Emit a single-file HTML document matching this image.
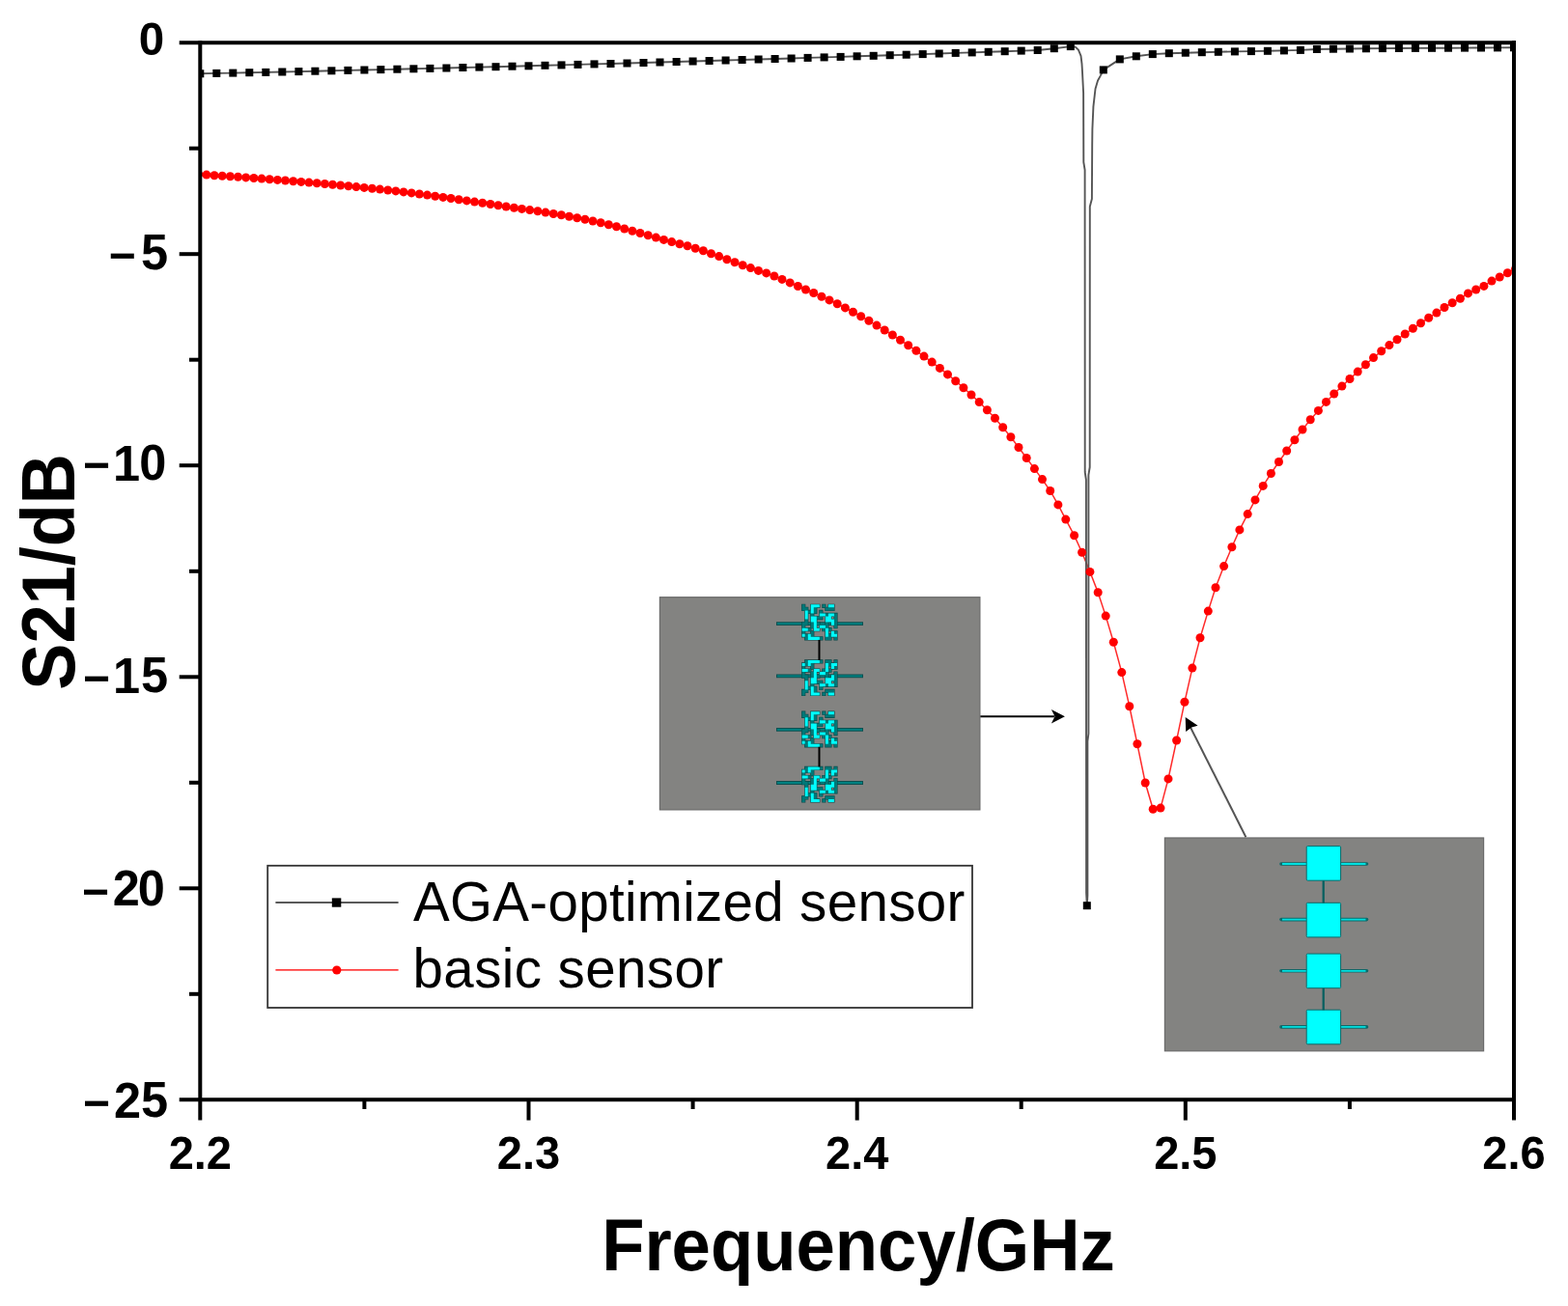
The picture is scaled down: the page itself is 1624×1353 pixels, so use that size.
<!DOCTYPE html>
<html><head><meta charset="utf-8"><title>S21 vs Frequency</title>
<style>html,body{margin:0;padding:0;background:#fff;}svg{display:block;}</style></head>
<body><svg width="1624" height="1353" viewBox="0 0 1624 1353">
<rect x="0" y="0" width="1624" height="1353" fill="#fff"/>
<defs><clipPath id="pc"><rect x="207.3" y="44.2" width="1360.7" height="1095.1"/></clipPath></defs>
<g clip-path="url(#pc)">
<polyline points="205.7,180.6 213.9,181.1 222.0,181.7 230.2,182.2 238.4,182.8 246.5,183.3 254.7,183.9 262.9,184.5 271.0,185.1 279.2,185.7 287.4,186.4 295.5,187.0 303.7,187.7 311.9,188.4 320.0,189.1 328.2,189.8 336.4,190.5 344.5,191.2 352.7,192.0 360.9,192.8 369.0,193.6 377.2,194.4 385.4,195.2 393.5,196.1 401.7,197.0 409.9,197.9 418.0,198.9 426.2,199.9 434.4,201.0 442.5,202.1 450.7,203.2 458.9,204.4 467.0,205.5 475.2,206.7 483.4,207.9 491.5,209.1 499.7,210.3 507.9,211.5 516.0,212.8 524.2,214.0 532.4,215.2 540.5,216.4 548.7,217.6 556.9,218.8 565.0,220.1 573.2,221.5 581.4,222.8 589.5,224.3 597.7,225.8 605.9,227.3 614.0,229.0 622.2,230.8 630.4,232.7 638.5,234.8 646.7,237.0 654.9,239.2 663.0,241.5 671.2,243.8 679.4,246.1 687.5,248.4 695.7,250.6 703.9,252.8 712.0,254.8 720.2,257.2 728.4,259.8 736.5,262.7 744.7,265.6 752.9,268.7 761.0,271.7 769.2,274.7 777.4,277.6 785.5,280.4 793.7,282.9 801.9,286.0 810.0,289.4 818.2,292.9 826.4,296.5 834.5,300.0 842.7,303.5 850.9,307.2 859.0,310.9 867.2,314.8 875.4,318.9 883.5,323.2 891.7,327.7 899.9,332.3 908.0,337.1 916.2,342.0 924.4,347.0 932.5,352.3 940.7,357.7 948.9,363.3 957.0,369.1 965.2,375.1 973.4,381.4 981.5,387.9 989.7,394.7 997.9,401.7 1006.0,409.0 1014.2,416.6 1022.4,424.7 1030.5,433.3 1038.7,442.7 1046.9,452.8 1055.0,463.5 1063.2,474.5 1071.4,485.6 1079.5,496.6 1087.7,508.5 1095.9,522.9 1103.8,538.1 1112.6,554.7 1120.6,572.3 1128.9,592.4 1137.2,613.7 1145.2,638.1 1153.3,665.2 1161.8,696.6 1169.8,731.8 1177.9,770.8 1186.2,811.0 1194.2,838.3 1202.0,837.1 1210.0,806.9 1218.6,767.0 1226.9,727.3 1234.9,692.1 1243.0,660.7 1251.3,633.1 1259.0,608.7 1267.6,586.6 1275.9,566.7 1283.9,548.9 1292.2,532.6 1300.0,517.9 1308.2,503.4 1316.4,490.5 1324.5,478.5 1332.7,467.0 1340.9,455.8 1349.0,445.0 1357.2,434.8 1365.4,425.4 1373.5,416.4 1381.7,408.0 1389.9,400.1 1398.0,392.5 1406.2,385.1 1414.4,377.8 1422.5,370.6 1430.7,363.8 1438.9,357.6 1447.0,351.7 1455.2,346.0 1463.4,340.3 1471.5,334.7 1479.7,329.3 1487.9,324.1 1496.0,318.5 1504.2,313.7 1512.4,309.3 1520.5,303.9 1528.7,300.0 1536.9,296.4 1545.0,291.1 1553.2,287.0 1561.4,282.8 1569.5,278.7" fill="none" stroke="#ff2a2a" stroke-width="1.5"/>
<polyline points="207.3,76.3 224.3,75.9 241.3,75.6 258.3,75.2 275.3,74.9 292.3,74.5 309.4,74.1 326.4,73.7 343.4,73.3 360.4,72.9 377.4,72.5 394.4,72.1 411.4,71.7 428.4,71.3 445.4,70.9 462.4,70.5 479.4,70.0 496.4,69.6 513.5,69.2 530.5,68.7 547.5,68.3 564.5,67.8 581.5,67.4 598.5,66.9 615.5,66.4 632.5,66.0 649.5,65.5 666.5,65.0 683.5,64.5 700.6,64.0 717.6,63.5 734.6,63.0 751.6,62.5 768.6,62.0 785.6,61.5 802.6,61.0 819.6,60.5 836.6,59.9 853.6,59.4 870.6,58.9 887.6,58.3 904.7,57.8 921.7,57.2 938.7,56.7 955.7,56.1 972.7,55.5 989.7,54.9 1006.7,54.4 1023.7,53.8 1040.7,53.2 1057.7,52.6 1074.7,52.0 1091.8,50.2 1108.8,48.1 1113.8,48.6 1116.9,51.7 1119.5,57.9 1120.5,66.2 1121.0,74.5 1122.1,96.2 1122.3,168.0 1123.6,176.0 1123.7,489.0 1124.9,497.0 1125.1,925.0 1125.8,938.2 1126.4,928.0 1126.4,768.0 1127.4,760.0 1127.4,492.0 1128.7,484.0 1128.8,214.0 1130.9,206.0 1131.2,150.0 1131.4,133.5 1132.4,110.7 1134.5,92.0 1137.0,83.5 1139.7,78.6 1142.8,72.4 1159.8,61.4 1176.8,58.3 1193.8,56.1 1210.8,55.2 1227.8,54.7 1244.8,54.2 1261.8,53.8 1278.9,53.4 1295.9,53.1 1312.9,52.8 1329.9,52.4 1346.9,51.9 1363.9,51.0 1380.9,50.7 1397.9,50.5 1414.9,50.3 1431.9,50.1 1448.9,50.0 1465.9,49.9 1483.0,49.8 1500.0,49.7 1517.0,49.6 1534.0,49.5 1551.0,49.4 1568.0,49.3" fill="none" stroke="#555" stroke-width="1.9" stroke-linejoin="round"/>
<g fill="#ff0000"><circle cx="205.7" cy="180.6" r="4.5"/><circle cx="213.9" cy="181.1" r="4.5"/><circle cx="222.0" cy="181.7" r="4.5"/><circle cx="230.2" cy="182.2" r="4.5"/><circle cx="238.4" cy="182.8" r="4.5"/><circle cx="246.5" cy="183.3" r="4.5"/><circle cx="254.7" cy="183.9" r="4.5"/><circle cx="262.9" cy="184.5" r="4.5"/><circle cx="271.0" cy="185.1" r="4.5"/><circle cx="279.2" cy="185.7" r="4.5"/><circle cx="287.4" cy="186.4" r="4.5"/><circle cx="295.5" cy="187.0" r="4.5"/><circle cx="303.7" cy="187.7" r="4.5"/><circle cx="311.9" cy="188.4" r="4.5"/><circle cx="320.0" cy="189.1" r="4.5"/><circle cx="328.2" cy="189.8" r="4.5"/><circle cx="336.4" cy="190.5" r="4.5"/><circle cx="344.5" cy="191.2" r="4.5"/><circle cx="352.7" cy="192.0" r="4.5"/><circle cx="360.9" cy="192.8" r="4.5"/><circle cx="369.0" cy="193.6" r="4.5"/><circle cx="377.2" cy="194.4" r="4.5"/><circle cx="385.4" cy="195.2" r="4.5"/><circle cx="393.5" cy="196.1" r="4.5"/><circle cx="401.7" cy="197.0" r="4.5"/><circle cx="409.9" cy="197.9" r="4.5"/><circle cx="418.0" cy="198.9" r="4.5"/><circle cx="426.2" cy="199.9" r="4.5"/><circle cx="434.4" cy="201.0" r="4.5"/><circle cx="442.5" cy="202.1" r="4.5"/><circle cx="450.7" cy="203.2" r="4.5"/><circle cx="458.9" cy="204.4" r="4.5"/><circle cx="467.0" cy="205.5" r="4.5"/><circle cx="475.2" cy="206.7" r="4.5"/><circle cx="483.4" cy="207.9" r="4.5"/><circle cx="491.5" cy="209.1" r="4.5"/><circle cx="499.7" cy="210.3" r="4.5"/><circle cx="507.9" cy="211.5" r="4.5"/><circle cx="516.0" cy="212.8" r="4.5"/><circle cx="524.2" cy="214.0" r="4.5"/><circle cx="532.4" cy="215.2" r="4.5"/><circle cx="540.5" cy="216.4" r="4.5"/><circle cx="548.7" cy="217.6" r="4.5"/><circle cx="556.9" cy="218.8" r="4.5"/><circle cx="565.0" cy="220.1" r="4.5"/><circle cx="573.2" cy="221.5" r="4.5"/><circle cx="581.4" cy="222.8" r="4.5"/><circle cx="589.5" cy="224.3" r="4.5"/><circle cx="597.7" cy="225.8" r="4.5"/><circle cx="605.9" cy="227.3" r="4.5"/><circle cx="614.0" cy="229.0" r="4.5"/><circle cx="622.2" cy="230.8" r="4.5"/><circle cx="630.4" cy="232.7" r="4.5"/><circle cx="638.5" cy="234.8" r="4.5"/><circle cx="646.7" cy="237.0" r="4.5"/><circle cx="654.9" cy="239.2" r="4.5"/><circle cx="663.0" cy="241.5" r="4.5"/><circle cx="671.2" cy="243.8" r="4.5"/><circle cx="679.4" cy="246.1" r="4.5"/><circle cx="687.5" cy="248.4" r="4.5"/><circle cx="695.7" cy="250.6" r="4.5"/><circle cx="703.9" cy="252.8" r="4.5"/><circle cx="712.0" cy="254.8" r="4.5"/><circle cx="720.2" cy="257.2" r="4.5"/><circle cx="728.4" cy="259.8" r="4.5"/><circle cx="736.5" cy="262.7" r="4.5"/><circle cx="744.7" cy="265.6" r="4.5"/><circle cx="752.9" cy="268.7" r="4.5"/><circle cx="761.0" cy="271.7" r="4.5"/><circle cx="769.2" cy="274.7" r="4.5"/><circle cx="777.4" cy="277.6" r="4.5"/><circle cx="785.5" cy="280.4" r="4.5"/><circle cx="793.7" cy="282.9" r="4.5"/><circle cx="801.9" cy="286.0" r="4.5"/><circle cx="810.0" cy="289.4" r="4.5"/><circle cx="818.2" cy="292.9" r="4.5"/><circle cx="826.4" cy="296.5" r="4.5"/><circle cx="834.5" cy="300.0" r="4.5"/><circle cx="842.7" cy="303.5" r="4.5"/><circle cx="850.9" cy="307.2" r="4.5"/><circle cx="859.0" cy="310.9" r="4.5"/><circle cx="867.2" cy="314.8" r="4.5"/><circle cx="875.4" cy="318.9" r="4.5"/><circle cx="883.5" cy="323.2" r="4.5"/><circle cx="891.7" cy="327.7" r="4.5"/><circle cx="899.9" cy="332.3" r="4.5"/><circle cx="908.0" cy="337.1" r="4.5"/><circle cx="916.2" cy="342.0" r="4.5"/><circle cx="924.4" cy="347.0" r="4.5"/><circle cx="932.5" cy="352.3" r="4.5"/><circle cx="940.7" cy="357.7" r="4.5"/><circle cx="948.9" cy="363.3" r="4.5"/><circle cx="957.0" cy="369.1" r="4.5"/><circle cx="965.2" cy="375.1" r="4.5"/><circle cx="973.4" cy="381.4" r="4.5"/><circle cx="981.5" cy="387.9" r="4.5"/><circle cx="989.7" cy="394.7" r="4.5"/><circle cx="997.9" cy="401.7" r="4.5"/><circle cx="1006.0" cy="409.0" r="4.5"/><circle cx="1014.2" cy="416.6" r="4.5"/><circle cx="1022.4" cy="424.7" r="4.5"/><circle cx="1030.5" cy="433.3" r="4.5"/><circle cx="1038.7" cy="442.7" r="4.5"/><circle cx="1046.9" cy="452.8" r="4.5"/><circle cx="1055.0" cy="463.5" r="4.5"/><circle cx="1063.2" cy="474.5" r="4.5"/><circle cx="1071.4" cy="485.6" r="4.5"/><circle cx="1079.5" cy="496.6" r="4.5"/><circle cx="1087.7" cy="508.5" r="4.5"/><circle cx="1095.9" cy="522.9" r="4.5"/><circle cx="1103.8" cy="538.1" r="4.5"/><circle cx="1112.6" cy="554.7" r="4.5"/><circle cx="1120.6" cy="572.3" r="4.5"/><circle cx="1128.9" cy="592.4" r="4.5"/><circle cx="1137.2" cy="613.7" r="4.5"/><circle cx="1145.2" cy="638.1" r="4.5"/><circle cx="1153.3" cy="665.2" r="4.5"/><circle cx="1161.8" cy="696.6" r="4.5"/><circle cx="1169.8" cy="731.8" r="4.5"/><circle cx="1177.9" cy="770.8" r="4.5"/><circle cx="1186.2" cy="811.0" r="4.5"/><circle cx="1194.2" cy="838.3" r="4.5"/><circle cx="1202.0" cy="837.1" r="4.5"/><circle cx="1210.0" cy="806.9" r="4.5"/><circle cx="1218.6" cy="767.0" r="4.5"/><circle cx="1226.9" cy="727.3" r="4.5"/><circle cx="1234.9" cy="692.1" r="4.5"/><circle cx="1243.0" cy="660.7" r="4.5"/><circle cx="1251.3" cy="633.1" r="4.5"/><circle cx="1259.0" cy="608.7" r="4.5"/><circle cx="1267.6" cy="586.6" r="4.5"/><circle cx="1275.9" cy="566.7" r="4.5"/><circle cx="1283.9" cy="548.9" r="4.5"/><circle cx="1292.2" cy="532.6" r="4.5"/><circle cx="1300.0" cy="517.9" r="4.5"/><circle cx="1308.2" cy="503.4" r="4.5"/><circle cx="1316.4" cy="490.5" r="4.5"/><circle cx="1324.5" cy="478.5" r="4.5"/><circle cx="1332.7" cy="467.0" r="4.5"/><circle cx="1340.9" cy="455.8" r="4.5"/><circle cx="1349.0" cy="445.0" r="4.5"/><circle cx="1357.2" cy="434.8" r="4.5"/><circle cx="1365.4" cy="425.4" r="4.5"/><circle cx="1373.5" cy="416.4" r="4.5"/><circle cx="1381.7" cy="408.0" r="4.5"/><circle cx="1389.9" cy="400.1" r="4.5"/><circle cx="1398.0" cy="392.5" r="4.5"/><circle cx="1406.2" cy="385.1" r="4.5"/><circle cx="1414.4" cy="377.8" r="4.5"/><circle cx="1422.5" cy="370.6" r="4.5"/><circle cx="1430.7" cy="363.8" r="4.5"/><circle cx="1438.9" cy="357.6" r="4.5"/><circle cx="1447.0" cy="351.7" r="4.5"/><circle cx="1455.2" cy="346.0" r="4.5"/><circle cx="1463.4" cy="340.3" r="4.5"/><circle cx="1471.5" cy="334.7" r="4.5"/><circle cx="1479.7" cy="329.3" r="4.5"/><circle cx="1487.9" cy="324.1" r="4.5"/><circle cx="1496.0" cy="318.5" r="4.5"/><circle cx="1504.2" cy="313.7" r="4.5"/><circle cx="1512.4" cy="309.3" r="4.5"/><circle cx="1520.5" cy="303.9" r="4.5"/><circle cx="1528.7" cy="300.0" r="4.5"/><circle cx="1536.9" cy="296.4" r="4.5"/><circle cx="1545.0" cy="291.1" r="4.5"/><circle cx="1553.2" cy="287.0" r="4.5"/><circle cx="1561.4" cy="282.8" r="4.5"/><circle cx="1569.5" cy="278.7" r="4.5"/></g>
<g fill="#000"><rect x="203.3" y="72.3" width="8" height="8"/><rect x="220.3" y="71.9" width="8" height="8"/><rect x="237.3" y="71.6" width="8" height="8"/><rect x="254.3" y="71.2" width="8" height="8"/><rect x="271.3" y="70.9" width="8" height="8"/><rect x="288.3" y="70.5" width="8" height="8"/><rect x="305.4" y="70.1" width="8" height="8"/><rect x="322.4" y="69.7" width="8" height="8"/><rect x="339.4" y="69.3" width="8" height="8"/><rect x="356.4" y="68.9" width="8" height="8"/><rect x="373.4" y="68.5" width="8" height="8"/><rect x="390.4" y="68.1" width="8" height="8"/><rect x="407.4" y="67.7" width="8" height="8"/><rect x="424.4" y="67.3" width="8" height="8"/><rect x="441.4" y="66.9" width="8" height="8"/><rect x="458.4" y="66.5" width="8" height="8"/><rect x="475.4" y="66.0" width="8" height="8"/><rect x="492.4" y="65.6" width="8" height="8"/><rect x="509.5" y="65.2" width="8" height="8"/><rect x="526.5" y="64.7" width="8" height="8"/><rect x="543.5" y="64.3" width="8" height="8"/><rect x="560.5" y="63.8" width="8" height="8"/><rect x="577.5" y="63.4" width="8" height="8"/><rect x="594.5" y="62.9" width="8" height="8"/><rect x="611.5" y="62.4" width="8" height="8"/><rect x="628.5" y="62.0" width="8" height="8"/><rect x="645.5" y="61.5" width="8" height="8"/><rect x="662.5" y="61.0" width="8" height="8"/><rect x="679.5" y="60.5" width="8" height="8"/><rect x="696.6" y="60.0" width="8" height="8"/><rect x="713.6" y="59.5" width="8" height="8"/><rect x="730.6" y="59.0" width="8" height="8"/><rect x="747.6" y="58.5" width="8" height="8"/><rect x="764.6" y="58.0" width="8" height="8"/><rect x="781.6" y="57.5" width="8" height="8"/><rect x="798.6" y="57.0" width="8" height="8"/><rect x="815.6" y="56.5" width="8" height="8"/><rect x="832.6" y="55.9" width="8" height="8"/><rect x="849.6" y="55.4" width="8" height="8"/><rect x="866.6" y="54.9" width="8" height="8"/><rect x="883.6" y="54.3" width="8" height="8"/><rect x="900.7" y="53.8" width="8" height="8"/><rect x="917.7" y="53.2" width="8" height="8"/><rect x="934.7" y="52.7" width="8" height="8"/><rect x="951.7" y="52.1" width="8" height="8"/><rect x="968.7" y="51.5" width="8" height="8"/><rect x="985.7" y="50.9" width="8" height="8"/><rect x="1002.7" y="50.4" width="8" height="8"/><rect x="1019.7" y="49.8" width="8" height="8"/><rect x="1036.7" y="49.2" width="8" height="8"/><rect x="1053.7" y="48.6" width="8" height="8"/><rect x="1070.7" y="48.0" width="8" height="8"/><rect x="1087.8" y="46.2" width="8" height="8"/><rect x="1104.8" y="44.1" width="8" height="8"/><rect x="1121.8" y="934.2" width="8" height="8"/><rect x="1138.8" y="68.4" width="8" height="8"/><rect x="1155.8" y="57.4" width="8" height="8"/><rect x="1172.8" y="54.3" width="8" height="8"/><rect x="1189.8" y="52.1" width="8" height="8"/><rect x="1206.8" y="51.2" width="8" height="8"/><rect x="1223.8" y="50.7" width="8" height="8"/><rect x="1240.8" y="50.2" width="8" height="8"/><rect x="1257.8" y="49.8" width="8" height="8"/><rect x="1274.9" y="49.4" width="8" height="8"/><rect x="1291.9" y="49.1" width="8" height="8"/><rect x="1308.9" y="48.8" width="8" height="8"/><rect x="1325.9" y="48.4" width="8" height="8"/><rect x="1342.9" y="47.9" width="8" height="8"/><rect x="1359.9" y="47.0" width="8" height="8"/><rect x="1376.9" y="46.7" width="8" height="8"/><rect x="1393.9" y="46.5" width="8" height="8"/><rect x="1410.9" y="46.3" width="8" height="8"/><rect x="1427.9" y="46.1" width="8" height="8"/><rect x="1444.9" y="46.0" width="8" height="8"/><rect x="1461.9" y="45.9" width="8" height="8"/><rect x="1479.0" y="45.8" width="8" height="8"/><rect x="1496.0" y="45.7" width="8" height="8"/><rect x="1513.0" y="45.6" width="8" height="8"/><rect x="1530.0" y="45.5" width="8" height="8"/><rect x="1547.0" y="45.4" width="8" height="8"/><rect x="1564.0" y="45.3" width="8" height="8"/></g>
</g>
<g stroke="#000" stroke-width="4" fill="none" stroke-linecap="butt">
<line x1="185.7" y1="44.2" x2="1570.0" y2="44.2"/>
<line x1="185.7" y1="1139.3" x2="1568.0" y2="1139.3"/>
<line x1="207.3" y1="42.2" x2="207.3" y2="1160.6"/>
<line x1="1568.0" y1="42.2" x2="1568.0" y2="1160.6"/>
<line x1="547.5" y1="1139.3" x2="547.5" y2="1160.6"/>
<line x1="887.7" y1="1139.3" x2="887.7" y2="1160.6"/>
<line x1="1227.8" y1="1139.3" x2="1227.8" y2="1160.6"/>
<line x1="377.4" y1="1139.3" x2="377.4" y2="1149"/>
<line x1="717.6" y1="1139.3" x2="717.6" y2="1149"/>
<line x1="1057.7" y1="1139.3" x2="1057.7" y2="1149"/>
<line x1="1397.9" y1="1139.3" x2="1397.9" y2="1149"/>
<line x1="185.7" y1="263.2" x2="207.3" y2="263.2"/>
<line x1="185.7" y1="482.2" x2="207.3" y2="482.2"/>
<line x1="185.7" y1="701.3" x2="207.3" y2="701.3"/>
<line x1="185.7" y1="920.3" x2="207.3" y2="920.3"/>
<line x1="196" y1="153.7" x2="207.3" y2="153.7"/>
<line x1="196" y1="372.7" x2="207.3" y2="372.7"/>
<line x1="196" y1="591.8" x2="207.3" y2="591.8"/>
<line x1="196" y1="810.8" x2="207.3" y2="810.8"/>
<line x1="196" y1="1029.8" x2="207.3" y2="1029.8"/>
</g>
<g font-family="Liberation Sans, Arial, sans-serif" font-weight="bold" fill="#000">
<text transform="translate(160.00,278.99) scale(1,1.037)" text-anchor="middle" font-size="50.5">5</text>
<text x="112.71" y="280.86" font-size="48.0">−</text>
<text transform="translate(131.00,497.70) scale(1,1.037)" text-anchor="middle" font-size="50.5">1</text>
<text transform="translate(158.35,497.19) scale(1,1.037)" text-anchor="middle" font-size="50.5">0</text>
<text x="86.11" y="498.46" font-size="48.0">−</text>
<text transform="translate(131.00,717.90) scale(1,1.037)" text-anchor="middle" font-size="50.5">1</text>
<text transform="translate(160.00,717.39) scale(1,1.037)" text-anchor="middle" font-size="50.5">5</text>
<text x="86.11" y="719.16" font-size="48.0">−</text>
<text transform="translate(130.85,938.40) scale(1,1.037)" text-anchor="middle" font-size="50.5">2</text>
<text transform="translate(156.85,937.89) scale(1,1.037)" text-anchor="middle" font-size="50.5">0</text>
<text x="85.01" y="939.76" font-size="48.0">−</text>
<text transform="translate(132.10,1157.60) scale(1,1.037)" text-anchor="middle" font-size="50.5">2</text>
<text transform="translate(160.00,1157.09) scale(1,1.037)" text-anchor="middle" font-size="50.5">5</text>
<text x="86.11" y="1158.86" font-size="48.0">−</text>
<text transform="translate(170.05,56.73) scale(1,1.020)" text-anchor="end" font-size="47.5">0</text>
</g>
<g font-family="Liberation Sans, Arial, sans-serif" font-weight="bold" fill="#000" text-anchor="middle">
<text transform="translate(207.3,1211.0) scale(1,1.020)" font-size="47.0">2.2</text>
<text transform="translate(547.5,1211.0) scale(1,1.020)" font-size="47.0">2.3</text>
<text transform="translate(887.7,1211.0) scale(1,1.020)" font-size="47.0">2.4</text>
<text transform="translate(1227.8,1211.0) scale(1,1.020)" font-size="47.0">2.5</text>
<text transform="translate(1568.0,1211.0) scale(1,1.020)" font-size="47.0">2.6</text>
</g>
<text x="889" y="1315.7" text-anchor="middle" font-family="Liberation Sans, Arial, sans-serif" font-weight="bold" font-size="72.5" transform="translate(0,-52.6) scale(1,1.04)">Frequency/GHz</text>
<g transform="translate(76.6,592.4) rotate(-90)"><text x="0" y="0" text-anchor="middle" font-family="Liberation Sans, Arial, sans-serif" font-weight="bold" font-size="72.2" transform="scale(1,1.09)">S21/dB</text></g>
<rect x="277.2" y="896.8" width="729.8" height="147.2" fill="#fff" stroke="#333" stroke-width="1.8"/>
<line x1="285.4" y1="935" x2="412.6" y2="935" stroke="#222" stroke-width="1.6"/>
<rect x="343.8" y="930.4" width="9.5" height="9.3" fill="#000"/>
<line x1="285.4" y1="1004.8" x2="412.6" y2="1004.8" stroke="#ff4040" stroke-width="1.8"/>
<circle cx="348.8" cy="1005" r="4.6" fill="#ff0000"/>
<text x="428" y="953.9" font-family="Liberation Sans, Arial, sans-serif" font-size="56.5" letter-spacing="0.32">AGA-optimized sensor</text>
<text x="427.5" y="1023.4" font-family="Liberation Sans, Arial, sans-serif" font-size="56.5" letter-spacing="0.4">basic sensor</text>
<rect x="683.4" y="618.7" width="331.5" height="220.2" fill="#838381" stroke="#6a6a6a" stroke-width="1.2"/>
<line x1="804" y1="646.1" x2="894" y2="646.1" stroke="#0d5050" stroke-width="3.8"/>
<line x1="805" y1="646.1" x2="893" y2="646.1" stroke="#008080" stroke-width="1.8"/>
<path d="M830.10 625.70h4.22v4.25h-4.22zM839.18 625.70h4.22v4.25h-4.22zM842.20 625.70h4.22v4.25h-4.22zM845.23 625.70h4.22v4.25h-4.22zM851.27 625.70h4.22v4.25h-4.22zM857.33 625.70h4.22v4.25h-4.22zM860.35 625.70h4.22v4.25h-4.22zM830.10 628.75h4.22v4.25h-4.22zM833.12 628.75h4.22v4.25h-4.22zM839.18 628.75h4.22v4.25h-4.22zM842.20 628.75h4.22v4.25h-4.22zM854.30 628.75h4.22v4.25h-4.22zM857.33 628.75h4.22v4.25h-4.22zM860.35 628.75h4.22v4.25h-4.22zM833.12 631.80h4.22v4.25h-4.22zM836.15 631.80h4.22v4.25h-4.22zM839.18 631.80h4.22v4.25h-4.22zM842.20 631.80h4.22v4.25h-4.22zM848.25 631.80h4.22v4.25h-4.22zM833.12 634.85h4.22v4.25h-4.22zM839.18 634.85h4.22v4.25h-4.22zM848.25 634.85h4.22v4.25h-4.22zM851.27 634.85h4.22v4.25h-4.22zM854.30 634.85h4.22v4.25h-4.22zM857.33 634.85h4.22v4.25h-4.22zM860.35 634.85h4.22v4.25h-4.22zM863.38 634.85h4.22v4.25h-4.22zM833.12 637.90h4.22v4.25h-4.22zM839.18 637.90h4.22v4.25h-4.22zM842.20 637.90h4.22v4.25h-4.22zM845.23 637.90h4.22v4.25h-4.22zM848.25 637.90h4.22v4.25h-4.22zM854.30 637.90h4.22v4.25h-4.22zM857.33 637.90h4.22v4.25h-4.22zM863.38 637.90h4.22v4.25h-4.22zM833.12 640.95h4.22v4.25h-4.22zM839.18 640.95h4.22v4.25h-4.22zM842.20 640.95h4.22v4.25h-4.22zM854.30 640.95h4.22v4.25h-4.22zM857.33 640.95h4.22v4.25h-4.22zM860.35 640.95h4.22v4.25h-4.22zM863.38 640.95h4.22v4.25h-4.22zM830.10 644.00h4.22v4.25h-4.22zM833.12 644.00h4.22v4.25h-4.22zM839.18 644.00h4.22v4.25h-4.22zM842.20 644.00h4.22v4.25h-4.22zM845.23 644.00h4.22v4.25h-4.22zM854.30 644.00h4.22v4.25h-4.22zM860.35 644.00h4.22v4.25h-4.22zM863.38 644.00h4.22v4.25h-4.22zM830.10 647.05h4.22v4.25h-4.22zM839.18 647.05h4.22v4.25h-4.22zM842.20 647.05h4.22v4.25h-4.22zM848.25 647.05h4.22v4.25h-4.22zM851.27 647.05h4.22v4.25h-4.22zM854.30 647.05h4.22v4.25h-4.22zM863.38 647.05h4.22v4.25h-4.22zM830.10 650.10h4.22v4.25h-4.22zM833.12 650.10h4.22v4.25h-4.22zM836.15 650.10h4.22v4.25h-4.22zM842.20 650.10h4.22v4.25h-4.22zM845.23 650.10h4.22v4.25h-4.22zM851.27 650.10h4.22v4.25h-4.22zM854.30 650.10h4.22v4.25h-4.22zM857.33 650.10h4.22v4.25h-4.22zM830.10 653.15h4.22v4.25h-4.22zM839.18 653.15h4.22v4.25h-4.22zM854.30 653.15h4.22v4.25h-4.22zM860.35 653.15h4.22v4.25h-4.22zM863.38 653.15h4.22v4.25h-4.22zM830.10 656.20h4.22v4.25h-4.22zM833.12 656.20h4.22v4.25h-4.22zM836.15 656.20h4.22v4.25h-4.22zM839.18 656.20h4.22v4.25h-4.22zM854.30 656.20h4.22v4.25h-4.22zM857.33 656.20h4.22v4.25h-4.22zM860.35 656.20h4.22v4.25h-4.22zM863.38 656.20h4.22v4.25h-4.22zM833.12 659.25h4.22v4.25h-4.22zM836.15 659.25h4.22v4.25h-4.22zM839.18 659.25h4.22v4.25h-4.22zM842.20 659.25h4.22v4.25h-4.22zM845.23 659.25h4.22v4.25h-4.22zM848.25 659.25h4.22v4.25h-4.22zM854.30 659.25h4.22v4.25h-4.22zM857.33 659.25h4.22v4.25h-4.22zM863.38 659.25h4.22v4.25h-4.22z" fill="#0a4a4a"/><path d="M830.70 626.30h3.02v3.05h-3.02zM851.88 626.30h3.02v3.05h-3.02zM830.70 629.35h3.02v3.05h-3.02zM833.73 629.35h3.02v3.05h-3.02zM842.80 629.35h3.02v3.05h-3.02zM854.90 629.35h3.02v3.05h-3.02zM857.93 629.35h3.02v3.05h-3.02zM860.95 629.35h3.02v3.05h-3.02zM836.75 632.40h3.02v3.05h-3.02zM842.80 632.40h3.02v3.05h-3.02zM848.85 632.40h3.02v3.05h-3.02zM839.78 635.45h3.02v3.05h-3.02zM854.90 635.45h3.02v3.05h-3.02zM863.98 635.45h3.02v3.05h-3.02zM845.83 638.50h3.02v3.05h-3.02zM848.85 638.50h3.02v3.05h-3.02zM863.98 638.50h3.02v3.05h-3.02zM833.73 641.55h3.02v3.05h-3.02zM863.98 641.55h3.02v3.05h-3.02zM830.70 644.60h3.02v3.05h-3.02zM833.73 644.60h3.02v3.05h-3.02zM839.78 644.60h3.02v3.05h-3.02zM845.83 644.60h3.02v3.05h-3.02zM854.90 644.60h3.02v3.05h-3.02zM863.98 644.60h3.02v3.05h-3.02zM830.70 647.65h3.02v3.05h-3.02zM839.78 647.65h3.02v3.05h-3.02zM854.90 647.65h3.02v3.05h-3.02zM863.98 647.65h3.02v3.05h-3.02zM836.75 650.70h3.02v3.05h-3.02zM851.88 650.70h3.02v3.05h-3.02zM857.93 650.70h3.02v3.05h-3.02zM830.70 653.75h3.02v3.05h-3.02zM839.78 653.75h3.02v3.05h-3.02zM863.98 653.75h3.02v3.05h-3.02zM833.73 656.80h3.02v3.05h-3.02zM839.78 656.80h3.02v3.05h-3.02zM857.93 656.80h3.02v3.05h-3.02zM833.73 659.85h3.02v3.05h-3.02zM848.85 659.85h3.02v3.05h-3.02zM854.90 659.85h3.02v3.05h-3.02zM857.93 659.85h3.02v3.05h-3.02zM863.98 659.85h3.02v3.05h-3.02z" fill="#007878"/><path d="M839.78 626.30h3.02v3.05h-3.02zM842.80 626.30h3.02v3.05h-3.02zM845.83 626.30h3.02v3.05h-3.02zM857.93 626.30h3.02v3.05h-3.02zM860.95 626.30h3.02v3.05h-3.02zM839.78 629.35h3.02v3.05h-3.02zM833.73 632.40h3.02v3.05h-3.02zM839.78 632.40h3.02v3.05h-3.02zM833.73 635.45h3.02v3.05h-3.02zM848.85 635.45h3.02v3.05h-3.02zM851.88 635.45h3.02v3.05h-3.02zM857.93 635.45h3.02v3.05h-3.02zM860.95 635.45h3.02v3.05h-3.02zM833.73 638.50h3.02v3.05h-3.02zM839.78 638.50h3.02v3.05h-3.02zM842.80 638.50h3.02v3.05h-3.02zM854.90 638.50h3.02v3.05h-3.02zM857.93 638.50h3.02v3.05h-3.02zM839.78 641.55h3.02v3.05h-3.02zM842.80 641.55h3.02v3.05h-3.02zM854.90 641.55h3.02v3.05h-3.02zM857.93 641.55h3.02v3.05h-3.02zM860.95 641.55h3.02v3.05h-3.02zM842.80 644.60h3.02v3.05h-3.02zM860.95 644.60h3.02v3.05h-3.02zM842.80 647.65h3.02v3.05h-3.02zM848.85 647.65h3.02v3.05h-3.02zM851.88 647.65h3.02v3.05h-3.02zM830.70 650.70h3.02v3.05h-3.02zM833.73 650.70h3.02v3.05h-3.02zM842.80 650.70h3.02v3.05h-3.02zM845.83 650.70h3.02v3.05h-3.02zM854.90 650.70h3.02v3.05h-3.02zM854.90 653.75h3.02v3.05h-3.02zM860.95 653.75h3.02v3.05h-3.02zM830.70 656.80h3.02v3.05h-3.02zM836.75 656.80h3.02v3.05h-3.02zM854.90 656.80h3.02v3.05h-3.02zM860.95 656.80h3.02v3.05h-3.02zM863.98 656.80h3.02v3.05h-3.02zM836.75 659.85h3.02v3.05h-3.02zM839.78 659.85h3.02v3.05h-3.02zM842.80 659.85h3.02v3.05h-3.02zM845.83 659.85h3.02v3.05h-3.02z" fill="#00ffff"/>
<line x1="804" y1="700.4" x2="894" y2="700.4" stroke="#0d5050" stroke-width="3.8"/>
<line x1="805" y1="700.4" x2="893" y2="700.4" stroke="#008080" stroke-width="1.8"/>
<path d="M833.12 683.30h4.22v4.25h-4.22zM836.15 683.30h4.22v4.25h-4.22zM839.18 683.30h4.22v4.25h-4.22zM842.20 683.30h4.22v4.25h-4.22zM845.23 683.30h4.22v4.25h-4.22zM848.25 683.30h4.22v4.25h-4.22zM854.30 683.30h4.22v4.25h-4.22zM857.33 683.30h4.22v4.25h-4.22zM863.38 683.30h4.22v4.25h-4.22zM830.10 686.35h4.22v4.25h-4.22zM833.12 686.35h4.22v4.25h-4.22zM836.15 686.35h4.22v4.25h-4.22zM839.18 686.35h4.22v4.25h-4.22zM854.30 686.35h4.22v4.25h-4.22zM857.33 686.35h4.22v4.25h-4.22zM860.35 686.35h4.22v4.25h-4.22zM863.38 686.35h4.22v4.25h-4.22zM830.10 689.40h4.22v4.25h-4.22zM839.18 689.40h4.22v4.25h-4.22zM854.30 689.40h4.22v4.25h-4.22zM860.35 689.40h4.22v4.25h-4.22zM863.38 689.40h4.22v4.25h-4.22zM830.10 692.45h4.22v4.25h-4.22zM833.12 692.45h4.22v4.25h-4.22zM836.15 692.45h4.22v4.25h-4.22zM842.20 692.45h4.22v4.25h-4.22zM845.23 692.45h4.22v4.25h-4.22zM851.27 692.45h4.22v4.25h-4.22zM854.30 692.45h4.22v4.25h-4.22zM857.33 692.45h4.22v4.25h-4.22zM830.10 695.50h4.22v4.25h-4.22zM839.18 695.50h4.22v4.25h-4.22zM842.20 695.50h4.22v4.25h-4.22zM848.25 695.50h4.22v4.25h-4.22zM851.27 695.50h4.22v4.25h-4.22zM854.30 695.50h4.22v4.25h-4.22zM863.38 695.50h4.22v4.25h-4.22zM830.10 698.55h4.22v4.25h-4.22zM833.12 698.55h4.22v4.25h-4.22zM839.18 698.55h4.22v4.25h-4.22zM842.20 698.55h4.22v4.25h-4.22zM845.23 698.55h4.22v4.25h-4.22zM854.30 698.55h4.22v4.25h-4.22zM860.35 698.55h4.22v4.25h-4.22zM863.38 698.55h4.22v4.25h-4.22zM833.12 701.60h4.22v4.25h-4.22zM839.18 701.60h4.22v4.25h-4.22zM842.20 701.60h4.22v4.25h-4.22zM854.30 701.60h4.22v4.25h-4.22zM857.33 701.60h4.22v4.25h-4.22zM860.35 701.60h4.22v4.25h-4.22zM863.38 701.60h4.22v4.25h-4.22zM833.12 704.65h4.22v4.25h-4.22zM839.18 704.65h4.22v4.25h-4.22zM842.20 704.65h4.22v4.25h-4.22zM845.23 704.65h4.22v4.25h-4.22zM848.25 704.65h4.22v4.25h-4.22zM854.30 704.65h4.22v4.25h-4.22zM857.33 704.65h4.22v4.25h-4.22zM863.38 704.65h4.22v4.25h-4.22zM833.12 707.70h4.22v4.25h-4.22zM839.18 707.70h4.22v4.25h-4.22zM848.25 707.70h4.22v4.25h-4.22zM851.27 707.70h4.22v4.25h-4.22zM854.30 707.70h4.22v4.25h-4.22zM857.33 707.70h4.22v4.25h-4.22zM860.35 707.70h4.22v4.25h-4.22zM863.38 707.70h4.22v4.25h-4.22zM833.12 710.75h4.22v4.25h-4.22zM836.15 710.75h4.22v4.25h-4.22zM839.18 710.75h4.22v4.25h-4.22zM842.20 710.75h4.22v4.25h-4.22zM848.25 710.75h4.22v4.25h-4.22zM830.10 713.80h4.22v4.25h-4.22zM833.12 713.80h4.22v4.25h-4.22zM839.18 713.80h4.22v4.25h-4.22zM842.20 713.80h4.22v4.25h-4.22zM854.30 713.80h4.22v4.25h-4.22zM857.33 713.80h4.22v4.25h-4.22zM860.35 713.80h4.22v4.25h-4.22zM830.10 716.85h4.22v4.25h-4.22zM839.18 716.85h4.22v4.25h-4.22zM842.20 716.85h4.22v4.25h-4.22zM845.23 716.85h4.22v4.25h-4.22zM851.27 716.85h4.22v4.25h-4.22zM857.33 716.85h4.22v4.25h-4.22zM860.35 716.85h4.22v4.25h-4.22z" fill="#0a4a4a"/><path d="M833.73 683.90h3.02v3.05h-3.02zM848.85 683.90h3.02v3.05h-3.02zM854.90 683.90h3.02v3.05h-3.02zM857.93 683.90h3.02v3.05h-3.02zM863.98 683.90h3.02v3.05h-3.02zM833.73 686.95h3.02v3.05h-3.02zM839.78 686.95h3.02v3.05h-3.02zM857.93 686.95h3.02v3.05h-3.02zM830.70 690.00h3.02v3.05h-3.02zM839.78 690.00h3.02v3.05h-3.02zM863.98 690.00h3.02v3.05h-3.02zM836.75 693.05h3.02v3.05h-3.02zM851.88 693.05h3.02v3.05h-3.02zM857.93 693.05h3.02v3.05h-3.02zM830.70 696.10h3.02v3.05h-3.02zM839.78 696.10h3.02v3.05h-3.02zM854.90 696.10h3.02v3.05h-3.02zM863.98 696.10h3.02v3.05h-3.02zM830.70 699.15h3.02v3.05h-3.02zM833.73 699.15h3.02v3.05h-3.02zM839.78 699.15h3.02v3.05h-3.02zM845.83 699.15h3.02v3.05h-3.02zM854.90 699.15h3.02v3.05h-3.02zM863.98 699.15h3.02v3.05h-3.02zM833.73 702.20h3.02v3.05h-3.02zM863.98 702.20h3.02v3.05h-3.02zM845.83 705.25h3.02v3.05h-3.02zM848.85 705.25h3.02v3.05h-3.02zM863.98 705.25h3.02v3.05h-3.02zM839.78 708.30h3.02v3.05h-3.02zM854.90 708.30h3.02v3.05h-3.02zM863.98 708.30h3.02v3.05h-3.02zM836.75 711.35h3.02v3.05h-3.02zM842.80 711.35h3.02v3.05h-3.02zM848.85 711.35h3.02v3.05h-3.02zM830.70 714.40h3.02v3.05h-3.02zM833.73 714.40h3.02v3.05h-3.02zM842.80 714.40h3.02v3.05h-3.02zM854.90 714.40h3.02v3.05h-3.02zM857.93 714.40h3.02v3.05h-3.02zM860.95 714.40h3.02v3.05h-3.02zM830.70 717.45h3.02v3.05h-3.02zM851.88 717.45h3.02v3.05h-3.02z" fill="#007878"/><path d="M836.75 683.90h3.02v3.05h-3.02zM839.78 683.90h3.02v3.05h-3.02zM842.80 683.90h3.02v3.05h-3.02zM845.83 683.90h3.02v3.05h-3.02zM830.70 686.95h3.02v3.05h-3.02zM836.75 686.95h3.02v3.05h-3.02zM854.90 686.95h3.02v3.05h-3.02zM860.95 686.95h3.02v3.05h-3.02zM863.98 686.95h3.02v3.05h-3.02zM854.90 690.00h3.02v3.05h-3.02zM860.95 690.00h3.02v3.05h-3.02zM830.70 693.05h3.02v3.05h-3.02zM833.73 693.05h3.02v3.05h-3.02zM842.80 693.05h3.02v3.05h-3.02zM845.83 693.05h3.02v3.05h-3.02zM854.90 693.05h3.02v3.05h-3.02zM842.80 696.10h3.02v3.05h-3.02zM848.85 696.10h3.02v3.05h-3.02zM851.88 696.10h3.02v3.05h-3.02zM842.80 699.15h3.02v3.05h-3.02zM860.95 699.15h3.02v3.05h-3.02zM839.78 702.20h3.02v3.05h-3.02zM842.80 702.20h3.02v3.05h-3.02zM854.90 702.20h3.02v3.05h-3.02zM857.93 702.20h3.02v3.05h-3.02zM860.95 702.20h3.02v3.05h-3.02zM833.73 705.25h3.02v3.05h-3.02zM839.78 705.25h3.02v3.05h-3.02zM842.80 705.25h3.02v3.05h-3.02zM854.90 705.25h3.02v3.05h-3.02zM857.93 705.25h3.02v3.05h-3.02zM833.73 708.30h3.02v3.05h-3.02zM848.85 708.30h3.02v3.05h-3.02zM851.88 708.30h3.02v3.05h-3.02zM857.93 708.30h3.02v3.05h-3.02zM860.95 708.30h3.02v3.05h-3.02zM833.73 711.35h3.02v3.05h-3.02zM839.78 711.35h3.02v3.05h-3.02zM839.78 714.40h3.02v3.05h-3.02zM839.78 717.45h3.02v3.05h-3.02zM842.80 717.45h3.02v3.05h-3.02zM845.83 717.45h3.02v3.05h-3.02zM857.93 717.45h3.02v3.05h-3.02zM860.95 717.45h3.02v3.05h-3.02z" fill="#00ffff"/>
<line x1="804" y1="755.8" x2="894" y2="755.8" stroke="#0d5050" stroke-width="3.8"/>
<line x1="805" y1="755.8" x2="893" y2="755.8" stroke="#008080" stroke-width="1.8"/>
<path d="M830.10 736.60h4.22v4.25h-4.22zM839.18 736.60h4.22v4.25h-4.22zM842.20 736.60h4.22v4.25h-4.22zM845.23 736.60h4.22v4.25h-4.22zM851.27 736.60h4.22v4.25h-4.22zM857.33 736.60h4.22v4.25h-4.22zM860.35 736.60h4.22v4.25h-4.22zM830.10 739.65h4.22v4.25h-4.22zM833.12 739.65h4.22v4.25h-4.22zM839.18 739.65h4.22v4.25h-4.22zM842.20 739.65h4.22v4.25h-4.22zM854.30 739.65h4.22v4.25h-4.22zM857.33 739.65h4.22v4.25h-4.22zM860.35 739.65h4.22v4.25h-4.22zM833.12 742.70h4.22v4.25h-4.22zM836.15 742.70h4.22v4.25h-4.22zM839.18 742.70h4.22v4.25h-4.22zM842.20 742.70h4.22v4.25h-4.22zM848.25 742.70h4.22v4.25h-4.22zM833.12 745.75h4.22v4.25h-4.22zM839.18 745.75h4.22v4.25h-4.22zM848.25 745.75h4.22v4.25h-4.22zM851.27 745.75h4.22v4.25h-4.22zM854.30 745.75h4.22v4.25h-4.22zM857.33 745.75h4.22v4.25h-4.22zM860.35 745.75h4.22v4.25h-4.22zM863.38 745.75h4.22v4.25h-4.22zM833.12 748.80h4.22v4.25h-4.22zM839.18 748.80h4.22v4.25h-4.22zM842.20 748.80h4.22v4.25h-4.22zM845.23 748.80h4.22v4.25h-4.22zM848.25 748.80h4.22v4.25h-4.22zM854.30 748.80h4.22v4.25h-4.22zM857.33 748.80h4.22v4.25h-4.22zM863.38 748.80h4.22v4.25h-4.22zM833.12 751.85h4.22v4.25h-4.22zM839.18 751.85h4.22v4.25h-4.22zM842.20 751.85h4.22v4.25h-4.22zM854.30 751.85h4.22v4.25h-4.22zM857.33 751.85h4.22v4.25h-4.22zM860.35 751.85h4.22v4.25h-4.22zM863.38 751.85h4.22v4.25h-4.22zM830.10 754.90h4.22v4.25h-4.22zM833.12 754.90h4.22v4.25h-4.22zM839.18 754.90h4.22v4.25h-4.22zM842.20 754.90h4.22v4.25h-4.22zM845.23 754.90h4.22v4.25h-4.22zM854.30 754.90h4.22v4.25h-4.22zM860.35 754.90h4.22v4.25h-4.22zM863.38 754.90h4.22v4.25h-4.22zM830.10 757.95h4.22v4.25h-4.22zM839.18 757.95h4.22v4.25h-4.22zM842.20 757.95h4.22v4.25h-4.22zM848.25 757.95h4.22v4.25h-4.22zM851.27 757.95h4.22v4.25h-4.22zM854.30 757.95h4.22v4.25h-4.22zM863.38 757.95h4.22v4.25h-4.22zM830.10 761.00h4.22v4.25h-4.22zM833.12 761.00h4.22v4.25h-4.22zM836.15 761.00h4.22v4.25h-4.22zM842.20 761.00h4.22v4.25h-4.22zM845.23 761.00h4.22v4.25h-4.22zM851.27 761.00h4.22v4.25h-4.22zM854.30 761.00h4.22v4.25h-4.22zM857.33 761.00h4.22v4.25h-4.22zM830.10 764.05h4.22v4.25h-4.22zM839.18 764.05h4.22v4.25h-4.22zM854.30 764.05h4.22v4.25h-4.22zM860.35 764.05h4.22v4.25h-4.22zM863.38 764.05h4.22v4.25h-4.22zM830.10 767.10h4.22v4.25h-4.22zM833.12 767.10h4.22v4.25h-4.22zM836.15 767.10h4.22v4.25h-4.22zM839.18 767.10h4.22v4.25h-4.22zM854.30 767.10h4.22v4.25h-4.22zM857.33 767.10h4.22v4.25h-4.22zM860.35 767.10h4.22v4.25h-4.22zM863.38 767.10h4.22v4.25h-4.22zM833.12 770.15h4.22v4.25h-4.22zM836.15 770.15h4.22v4.25h-4.22zM839.18 770.15h4.22v4.25h-4.22zM842.20 770.15h4.22v4.25h-4.22zM845.23 770.15h4.22v4.25h-4.22zM848.25 770.15h4.22v4.25h-4.22zM854.30 770.15h4.22v4.25h-4.22zM857.33 770.15h4.22v4.25h-4.22zM863.38 770.15h4.22v4.25h-4.22z" fill="#0a4a4a"/><path d="M830.70 737.20h3.02v3.05h-3.02zM851.88 737.20h3.02v3.05h-3.02zM830.70 740.25h3.02v3.05h-3.02zM833.73 740.25h3.02v3.05h-3.02zM842.80 740.25h3.02v3.05h-3.02zM854.90 740.25h3.02v3.05h-3.02zM857.93 740.25h3.02v3.05h-3.02zM860.95 740.25h3.02v3.05h-3.02zM836.75 743.30h3.02v3.05h-3.02zM842.80 743.30h3.02v3.05h-3.02zM848.85 743.30h3.02v3.05h-3.02zM839.78 746.35h3.02v3.05h-3.02zM854.90 746.35h3.02v3.05h-3.02zM863.98 746.35h3.02v3.05h-3.02zM845.83 749.40h3.02v3.05h-3.02zM848.85 749.40h3.02v3.05h-3.02zM863.98 749.40h3.02v3.05h-3.02zM833.73 752.45h3.02v3.05h-3.02zM863.98 752.45h3.02v3.05h-3.02zM830.70 755.50h3.02v3.05h-3.02zM833.73 755.50h3.02v3.05h-3.02zM839.78 755.50h3.02v3.05h-3.02zM845.83 755.50h3.02v3.05h-3.02zM854.90 755.50h3.02v3.05h-3.02zM863.98 755.50h3.02v3.05h-3.02zM830.70 758.55h3.02v3.05h-3.02zM839.78 758.55h3.02v3.05h-3.02zM854.90 758.55h3.02v3.05h-3.02zM863.98 758.55h3.02v3.05h-3.02zM836.75 761.60h3.02v3.05h-3.02zM851.88 761.60h3.02v3.05h-3.02zM857.93 761.60h3.02v3.05h-3.02zM830.70 764.65h3.02v3.05h-3.02zM839.78 764.65h3.02v3.05h-3.02zM863.98 764.65h3.02v3.05h-3.02zM833.73 767.70h3.02v3.05h-3.02zM839.78 767.70h3.02v3.05h-3.02zM857.93 767.70h3.02v3.05h-3.02zM833.73 770.75h3.02v3.05h-3.02zM848.85 770.75h3.02v3.05h-3.02zM854.90 770.75h3.02v3.05h-3.02zM857.93 770.75h3.02v3.05h-3.02zM863.98 770.75h3.02v3.05h-3.02z" fill="#007878"/><path d="M839.78 737.20h3.02v3.05h-3.02zM842.80 737.20h3.02v3.05h-3.02zM845.83 737.20h3.02v3.05h-3.02zM857.93 737.20h3.02v3.05h-3.02zM860.95 737.20h3.02v3.05h-3.02zM839.78 740.25h3.02v3.05h-3.02zM833.73 743.30h3.02v3.05h-3.02zM839.78 743.30h3.02v3.05h-3.02zM833.73 746.35h3.02v3.05h-3.02zM848.85 746.35h3.02v3.05h-3.02zM851.88 746.35h3.02v3.05h-3.02zM857.93 746.35h3.02v3.05h-3.02zM860.95 746.35h3.02v3.05h-3.02zM833.73 749.40h3.02v3.05h-3.02zM839.78 749.40h3.02v3.05h-3.02zM842.80 749.40h3.02v3.05h-3.02zM854.90 749.40h3.02v3.05h-3.02zM857.93 749.40h3.02v3.05h-3.02zM839.78 752.45h3.02v3.05h-3.02zM842.80 752.45h3.02v3.05h-3.02zM854.90 752.45h3.02v3.05h-3.02zM857.93 752.45h3.02v3.05h-3.02zM860.95 752.45h3.02v3.05h-3.02zM842.80 755.50h3.02v3.05h-3.02zM860.95 755.50h3.02v3.05h-3.02zM842.80 758.55h3.02v3.05h-3.02zM848.85 758.55h3.02v3.05h-3.02zM851.88 758.55h3.02v3.05h-3.02zM830.70 761.60h3.02v3.05h-3.02zM833.73 761.60h3.02v3.05h-3.02zM842.80 761.60h3.02v3.05h-3.02zM845.83 761.60h3.02v3.05h-3.02zM854.90 761.60h3.02v3.05h-3.02zM854.90 764.65h3.02v3.05h-3.02zM860.95 764.65h3.02v3.05h-3.02zM830.70 767.70h3.02v3.05h-3.02zM836.75 767.70h3.02v3.05h-3.02zM854.90 767.70h3.02v3.05h-3.02zM860.95 767.70h3.02v3.05h-3.02zM863.98 767.70h3.02v3.05h-3.02zM836.75 770.75h3.02v3.05h-3.02zM839.78 770.75h3.02v3.05h-3.02zM842.80 770.75h3.02v3.05h-3.02zM845.83 770.75h3.02v3.05h-3.02z" fill="#00ffff"/>
<line x1="804" y1="811.0" x2="894" y2="811.0" stroke="#0d5050" stroke-width="3.8"/>
<line x1="805" y1="811.0" x2="893" y2="811.0" stroke="#008080" stroke-width="1.8"/>
<path d="M833.12 793.80h4.22v4.25h-4.22zM836.15 793.80h4.22v4.25h-4.22zM839.18 793.80h4.22v4.25h-4.22zM842.20 793.80h4.22v4.25h-4.22zM845.23 793.80h4.22v4.25h-4.22zM848.25 793.80h4.22v4.25h-4.22zM854.30 793.80h4.22v4.25h-4.22zM857.33 793.80h4.22v4.25h-4.22zM863.38 793.80h4.22v4.25h-4.22zM830.10 796.85h4.22v4.25h-4.22zM833.12 796.85h4.22v4.25h-4.22zM836.15 796.85h4.22v4.25h-4.22zM839.18 796.85h4.22v4.25h-4.22zM854.30 796.85h4.22v4.25h-4.22zM857.33 796.85h4.22v4.25h-4.22zM860.35 796.85h4.22v4.25h-4.22zM863.38 796.85h4.22v4.25h-4.22zM830.10 799.90h4.22v4.25h-4.22zM839.18 799.90h4.22v4.25h-4.22zM854.30 799.90h4.22v4.25h-4.22zM860.35 799.90h4.22v4.25h-4.22zM863.38 799.90h4.22v4.25h-4.22zM830.10 802.95h4.22v4.25h-4.22zM833.12 802.95h4.22v4.25h-4.22zM836.15 802.95h4.22v4.25h-4.22zM842.20 802.95h4.22v4.25h-4.22zM845.23 802.95h4.22v4.25h-4.22zM851.27 802.95h4.22v4.25h-4.22zM854.30 802.95h4.22v4.25h-4.22zM857.33 802.95h4.22v4.25h-4.22zM830.10 806.00h4.22v4.25h-4.22zM839.18 806.00h4.22v4.25h-4.22zM842.20 806.00h4.22v4.25h-4.22zM848.25 806.00h4.22v4.25h-4.22zM851.27 806.00h4.22v4.25h-4.22zM854.30 806.00h4.22v4.25h-4.22zM863.38 806.00h4.22v4.25h-4.22zM830.10 809.05h4.22v4.25h-4.22zM833.12 809.05h4.22v4.25h-4.22zM839.18 809.05h4.22v4.25h-4.22zM842.20 809.05h4.22v4.25h-4.22zM845.23 809.05h4.22v4.25h-4.22zM854.30 809.05h4.22v4.25h-4.22zM860.35 809.05h4.22v4.25h-4.22zM863.38 809.05h4.22v4.25h-4.22zM833.12 812.10h4.22v4.25h-4.22zM839.18 812.10h4.22v4.25h-4.22zM842.20 812.10h4.22v4.25h-4.22zM854.30 812.10h4.22v4.25h-4.22zM857.33 812.10h4.22v4.25h-4.22zM860.35 812.10h4.22v4.25h-4.22zM863.38 812.10h4.22v4.25h-4.22zM833.12 815.15h4.22v4.25h-4.22zM839.18 815.15h4.22v4.25h-4.22zM842.20 815.15h4.22v4.25h-4.22zM845.23 815.15h4.22v4.25h-4.22zM848.25 815.15h4.22v4.25h-4.22zM854.30 815.15h4.22v4.25h-4.22zM857.33 815.15h4.22v4.25h-4.22zM863.38 815.15h4.22v4.25h-4.22zM833.12 818.20h4.22v4.25h-4.22zM839.18 818.20h4.22v4.25h-4.22zM848.25 818.20h4.22v4.25h-4.22zM851.27 818.20h4.22v4.25h-4.22zM854.30 818.20h4.22v4.25h-4.22zM857.33 818.20h4.22v4.25h-4.22zM860.35 818.20h4.22v4.25h-4.22zM863.38 818.20h4.22v4.25h-4.22zM833.12 821.25h4.22v4.25h-4.22zM836.15 821.25h4.22v4.25h-4.22zM839.18 821.25h4.22v4.25h-4.22zM842.20 821.25h4.22v4.25h-4.22zM848.25 821.25h4.22v4.25h-4.22zM830.10 824.30h4.22v4.25h-4.22zM833.12 824.30h4.22v4.25h-4.22zM839.18 824.30h4.22v4.25h-4.22zM842.20 824.30h4.22v4.25h-4.22zM854.30 824.30h4.22v4.25h-4.22zM857.33 824.30h4.22v4.25h-4.22zM860.35 824.30h4.22v4.25h-4.22zM830.10 827.35h4.22v4.25h-4.22zM839.18 827.35h4.22v4.25h-4.22zM842.20 827.35h4.22v4.25h-4.22zM845.23 827.35h4.22v4.25h-4.22zM851.27 827.35h4.22v4.25h-4.22zM857.33 827.35h4.22v4.25h-4.22zM860.35 827.35h4.22v4.25h-4.22z" fill="#0a4a4a"/><path d="M833.73 794.40h3.02v3.05h-3.02zM848.85 794.40h3.02v3.05h-3.02zM854.90 794.40h3.02v3.05h-3.02zM857.93 794.40h3.02v3.05h-3.02zM863.98 794.40h3.02v3.05h-3.02zM833.73 797.45h3.02v3.05h-3.02zM839.78 797.45h3.02v3.05h-3.02zM857.93 797.45h3.02v3.05h-3.02zM830.70 800.50h3.02v3.05h-3.02zM839.78 800.50h3.02v3.05h-3.02zM863.98 800.50h3.02v3.05h-3.02zM836.75 803.55h3.02v3.05h-3.02zM851.88 803.55h3.02v3.05h-3.02zM857.93 803.55h3.02v3.05h-3.02zM830.70 806.60h3.02v3.05h-3.02zM839.78 806.60h3.02v3.05h-3.02zM854.90 806.60h3.02v3.05h-3.02zM863.98 806.60h3.02v3.05h-3.02zM830.70 809.65h3.02v3.05h-3.02zM833.73 809.65h3.02v3.05h-3.02zM839.78 809.65h3.02v3.05h-3.02zM845.83 809.65h3.02v3.05h-3.02zM854.90 809.65h3.02v3.05h-3.02zM863.98 809.65h3.02v3.05h-3.02zM833.73 812.70h3.02v3.05h-3.02zM863.98 812.70h3.02v3.05h-3.02zM845.83 815.75h3.02v3.05h-3.02zM848.85 815.75h3.02v3.05h-3.02zM863.98 815.75h3.02v3.05h-3.02zM839.78 818.80h3.02v3.05h-3.02zM854.90 818.80h3.02v3.05h-3.02zM863.98 818.80h3.02v3.05h-3.02zM836.75 821.85h3.02v3.05h-3.02zM842.80 821.85h3.02v3.05h-3.02zM848.85 821.85h3.02v3.05h-3.02zM830.70 824.90h3.02v3.05h-3.02zM833.73 824.90h3.02v3.05h-3.02zM842.80 824.90h3.02v3.05h-3.02zM854.90 824.90h3.02v3.05h-3.02zM857.93 824.90h3.02v3.05h-3.02zM860.95 824.90h3.02v3.05h-3.02zM830.70 827.95h3.02v3.05h-3.02zM851.88 827.95h3.02v3.05h-3.02z" fill="#007878"/><path d="M836.75 794.40h3.02v3.05h-3.02zM839.78 794.40h3.02v3.05h-3.02zM842.80 794.40h3.02v3.05h-3.02zM845.83 794.40h3.02v3.05h-3.02zM830.70 797.45h3.02v3.05h-3.02zM836.75 797.45h3.02v3.05h-3.02zM854.90 797.45h3.02v3.05h-3.02zM860.95 797.45h3.02v3.05h-3.02zM863.98 797.45h3.02v3.05h-3.02zM854.90 800.50h3.02v3.05h-3.02zM860.95 800.50h3.02v3.05h-3.02zM830.70 803.55h3.02v3.05h-3.02zM833.73 803.55h3.02v3.05h-3.02zM842.80 803.55h3.02v3.05h-3.02zM845.83 803.55h3.02v3.05h-3.02zM854.90 803.55h3.02v3.05h-3.02zM842.80 806.60h3.02v3.05h-3.02zM848.85 806.60h3.02v3.05h-3.02zM851.88 806.60h3.02v3.05h-3.02zM842.80 809.65h3.02v3.05h-3.02zM860.95 809.65h3.02v3.05h-3.02zM839.78 812.70h3.02v3.05h-3.02zM842.80 812.70h3.02v3.05h-3.02zM854.90 812.70h3.02v3.05h-3.02zM857.93 812.70h3.02v3.05h-3.02zM860.95 812.70h3.02v3.05h-3.02zM833.73 815.75h3.02v3.05h-3.02zM839.78 815.75h3.02v3.05h-3.02zM842.80 815.75h3.02v3.05h-3.02zM854.90 815.75h3.02v3.05h-3.02zM857.93 815.75h3.02v3.05h-3.02zM833.73 818.80h3.02v3.05h-3.02zM848.85 818.80h3.02v3.05h-3.02zM851.88 818.80h3.02v3.05h-3.02zM857.93 818.80h3.02v3.05h-3.02zM860.95 818.80h3.02v3.05h-3.02zM833.73 821.85h3.02v3.05h-3.02zM839.78 821.85h3.02v3.05h-3.02zM839.78 824.90h3.02v3.05h-3.02zM839.78 827.95h3.02v3.05h-3.02zM842.80 827.95h3.02v3.05h-3.02zM845.83 827.95h3.02v3.05h-3.02zM857.93 827.95h3.02v3.05h-3.02zM860.95 827.95h3.02v3.05h-3.02z" fill="#00ffff"/>
<line x1="848.5" y1="662.9" x2="848.5" y2="683.9" stroke="#000" stroke-width="2"/>
<line x1="848.5" y1="773.8" x2="848.5" y2="794.4" stroke="#000" stroke-width="2"/>
<rect x="1206.4" y="868" width="330.2" height="220.8" fill="#838381" stroke="#6a6a6a" stroke-width="1.2"/>
<line x1="1327" y1="895.0" x2="1415.5" y2="895.0" stroke="#0d6a6a" stroke-width="3.6" stroke-linecap="round"/>
<line x1="1328" y1="895.0" x2="1414.5" y2="895.0" stroke="#00e0e0" stroke-width="1.8"/>
<rect x="1353.2" y="876.6" width="35.4" height="35.6" rx="1.2" fill="#00ffff" stroke="#0b6a6a" stroke-width="1"/>
<line x1="1327" y1="952.6" x2="1415.5" y2="952.6" stroke="#0d6a6a" stroke-width="3.6" stroke-linecap="round"/>
<line x1="1328" y1="952.6" x2="1414.5" y2="952.6" stroke="#00e0e0" stroke-width="1.8"/>
<rect x="1353.2" y="935.3" width="35.4" height="35.6" rx="1.2" fill="#00ffff" stroke="#0b6a6a" stroke-width="1"/>
<line x1="1327" y1="1005.8" x2="1415.5" y2="1005.8" stroke="#0d6a6a" stroke-width="3.6" stroke-linecap="round"/>
<line x1="1328" y1="1005.8" x2="1414.5" y2="1005.8" stroke="#00e0e0" stroke-width="1.8"/>
<rect x="1353.2" y="988.1" width="35.4" height="35.6" rx="1.2" fill="#00ffff" stroke="#0b6a6a" stroke-width="1"/>
<line x1="1327" y1="1063.9" x2="1415.5" y2="1063.9" stroke="#0d6a6a" stroke-width="3.6" stroke-linecap="round"/>
<line x1="1328" y1="1063.9" x2="1414.5" y2="1063.9" stroke="#00e0e0" stroke-width="1.8"/>
<rect x="1353.2" y="1046.2" width="35.4" height="35.6" rx="1.2" fill="#00ffff" stroke="#0b6a6a" stroke-width="1"/>
<line x1="1370.7" y1="912.5" x2="1370.7" y2="935.5" stroke="#005f5f" stroke-width="2.2"/>
<line x1="1370.7" y1="1023.8" x2="1370.7" y2="1046.4" stroke="#005f5f" stroke-width="2.2"/>
<line x1="1015.4" y1="742.3" x2="1092" y2="742.3" stroke="#000" stroke-width="2"/>
<polygon points="1102.9,742.3 1088.9,735.1 1092.5,742.3 1088.9,749.5" fill="#000"/>
<line x1="1290.4" y1="867.2" x2="1233.0" y2="753.5" stroke="#555" stroke-width="2"/>
<polygon points="1227.7,743 1240.6,751.8 1234.2,753.6 1228.2,758.0" fill="#000"/>
</svg></body></html>
